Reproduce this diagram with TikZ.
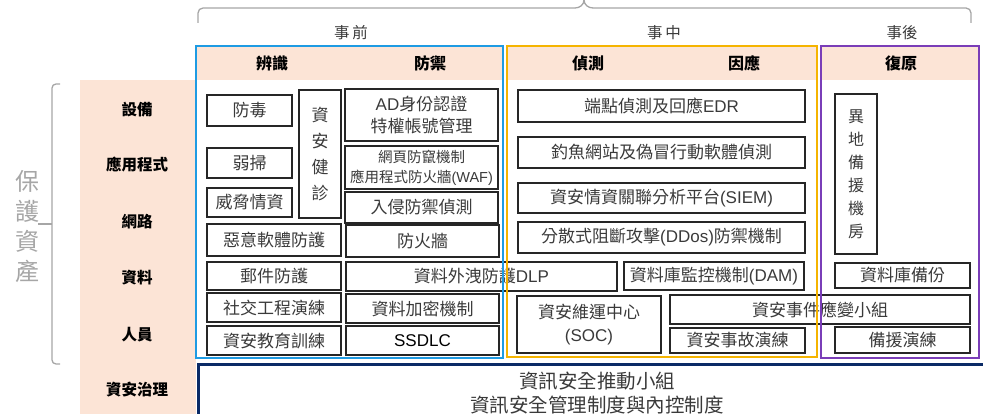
\documentclass[tikz,border=0pt]{standalone}
\usepackage{fontspec}
\setmainfont{Noto Sans CJK TC}
\newfontfamily\lat{Liberation Sans}
\newcommand{\la}[1]{{\lat #1}}
\definecolor{pinkbg}{HTML}{FCE4D6}
\definecolor{fblue}{HTML}{1E9BE3}
\definecolor{forange}{HTML}{F5B400}
\definecolor{fpurple}{HTML}{7A3DB8}
\definecolor{fnavy}{HTML}{0A2A66}
\definecolor{bgray}{HTML}{A6A6A6}
\definecolor{tgray}{HTML}{3A3A3A}
\newcommand{\abox}[7][]{\node[ibox,#1,minimum width={(#5-#3)*1pt},minimum height={(#6-#4)*1pt}] (#2) at ({(#3+#5)/2},{(#4+#6)/2}) {#7};}
\tikzset{
  ibox/.style={draw=black!85,line width=1.2pt,inner sep=0pt,align=center,text=tgray,font=\fontsize{17}{21}\selectfont},
  rowlab/.style={font=\bfseries\fontsize{15.5}{18}\selectfont,text=black},
  headlab/.style={font=\bfseries\fontsize{16}{18}\selectfont,text=black},
  phase/.style={font=\fontsize{15.5}{18}\selectfont,text=tgray},
  brace/.style={draw=bgray,line width=1.3pt},
}
\begin{document}
\begin{tikzpicture}[x=1pt,y=-1pt]
\clip (0,0) rectangle (983,414);
\useasboundingbox (0,0) rectangle (983,414);
% pink backgrounds
\fill[pinkbg] (80,80) rectangle (196,414);
\fill[pinkbg] (196,46) rectangle (503,80);
\fill[pinkbg] (507,46) rectangle (817,80);
\fill[pinkbg] (821,46) rectangle (979,80);
% top brace
\draw[brace,rounded corners=5] (198,23) -- (198,8) -- (575,8);
\draw[brace] (575,8) to[out=0,in=-90] (584,0);
\draw[brace] (584,0) to[out=-90,in=180] (593,8);
\draw[brace,rounded corners=5] (593,8) -- (971,8) -- (971,23);
% left bracket
\draw[brace,rounded corners=4] (60,84) -- (52,84) -- (52,364) -- (60,364);
\draw[brace] (38,224) -- (52,224);
\node[font=\fontsize{24}{30}\selectfont,text=bgray,align=center,inner sep=0pt] (asset) at (27,227) {保\\護\\資\\產};
% phase labels
\node[phase] (pre) at (351,33) {事\,前};
\node[phase] (mid) at (664,33) {事\,中};
\node[phase] (post) at (902,33) {事後};
% header labels
\node[headlab] (h1) at (272,63) {辨識};
\node[headlab] (h2) at (430,63) {防禦};
\node[headlab] (h3) at (588,63) {偵測};
\node[headlab] (h4) at (744,63) {因應};
\node[headlab] (h5) at (901,63) {復原};
% row labels
\node[rowlab] (r1) at (137,110) {設備};
\node[rowlab] (r2) at (137,165) {應用程式};
\node[rowlab] (r3) at (137,222) {網路};
\node[rowlab] (r4) at (137,278) {資料};
\node[rowlab] (r5) at (137,335) {人員};
\node[rowlab] (r6) at (137,390) {資安治理};
% inner boxes
\abox{fd}{207}{95}{292}{126}{防毒}
\abox{rs}{207}{148}{292}{178}{弱掃}
\abox{wx}{207}{188}{292}{217}{威脅情資}
\abox[font=\fontsize{17}{26}\selectfont]{jz}{299}{90}{341}{218}{資\\安\\健\\診}
\abox[font=\fontsize{17}{22}\selectfont]{ad}{345}{89}{498}{141}{\la{AD}身份認證\\特權帳號管理}
\abox[font=\fontsize{14.5}{20}\selectfont]{waf}{345}{146}{498}{189}{網頁防竄機制\\應用程式防火牆\la{(WAF)}}
\abox{ips}{345}{192}{498}{223}{入侵防禦偵測}
\abox{mal}{207}{224}{341}{256}{惡意軟體防護}
\abox{fw}{346}{225}{499}{257}{防火牆}
\abox{mail}{207}{262}{341}{290}{郵件防護}
\abox{dlp}{346}{262}{617}{291}{資料外洩防護\la{DLP}}
\abox{se}{207}{293}{341}{322}{社交工程演練}
\abox{enc}{346}{294}{499}{323}{資料加密機制}
\abox{edu}{207}{326}{341}{355}{資安教育訓練}
\abox[text=black]{ssdlc}{346}{326}{499}{355}{\la{SSDLC}}
\abox{edr}{518}{90}{805}{122}{端點偵測及回應\la{EDR}}
\abox{phish}{518}{137}{805}{168}{釣魚網站及偽冒行動軟體偵測}
\abox{siem}{518}{183}{805}{213}{資安情資關聯分析平台\la{(SIEM)}}
\abox{ddos}{518}{222}{805}{253}{分散式阻斷攻擊\la{(DDos)}防禦機制}
\abox{dam}{624}{262}{804}{290}{資料庫監控機制\la{(DAM)}}
\abox[font=\fontsize{17}{23}\selectfont]{soc}{517}{296}{661}{353}{資安維運中心\\\la{(SOC)}}
\abox{irt}{670}{295}{970}{324}{資安事件應變小組}
\abox{drill}{670}{328}{805}{353}{資安事故演練}
\abox[font=\fontsize{16}{23}\selectfont]{dr}{835}{94}{877}{254}{異\\地\\備\\援\\機\\房}
\abox{dbb}{835}{263}{970}{288}{資料庫備份}
\abox{bk}{835}{327}{970}{353}{備援演練}
% phase frames
\draw[fblue,line width=2.5pt] (196,46) rectangle (503,358);
\draw[forange,line width=2.5pt] (507,46) rectangle (817,357);
\draw[fpurple,line width=2.5pt] (821,46) rectangle (979,358);
% governance
\draw[fnavy,line width=3pt] (198,364) rectangle (995,430);
\node[font=\fontsize{19.5}{24}\selectfont,text=tgray,align=center] (gov) at (597,393) {資訊安全推動小組\\資訊安全管理制度與內控制度};
\end{tikzpicture}
\end{document}
